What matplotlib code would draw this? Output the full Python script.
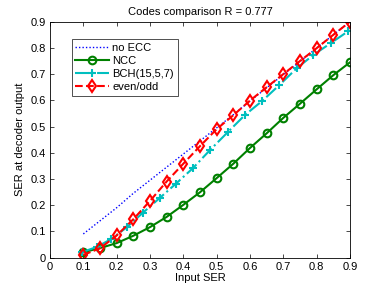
import matplotlib
matplotlib.use('Agg')
import matplotlib.pyplot as plt
import numpy as np

# input SER points
ser_in = [0.1, 0.15, 0.2, 0.25, 0.3, 0.35, 0.4, 0.45, 0.5,
          0.55, 0.6, 0.65, 0.7, 0.75, 0.8, 0.85, 0.9]

no_ecc = [0.09, 0.14, 0.19, 0.245, 0.295, 0.345, 0.395, 0.445, 0.495,
          0.545, 0.597, 0.648, 0.698, 0.748, 0.8, 0.85, 0.9]

ncc = [0.02, 0.036, 0.055, 0.083, 0.116, 0.155, 0.201, 0.249, 0.303,
       0.358, 0.418, 0.474, 0.533, 0.587, 0.642, 0.696, 0.745]

bch_x = [0.095, 0.14, 0.183, 0.23, 0.278, 0.33, 0.378, 0.428, 0.48,
         0.533, 0.585, 0.637, 0.688, 0.74, 0.79, 0.842, 0.895]
bch = [0.02, 0.04, 0.07, 0.115, 0.17, 0.228, 0.282, 0.34, 0.41,
       0.478, 0.544, 0.598, 0.658, 0.722, 0.773, 0.818, 0.864]

even_odd = [0.01, 0.035, 0.084, 0.146, 0.216, 0.29, 0.358, 0.425, 0.49,
            0.543, 0.599, 0.65, 0.70, 0.75, 0.799, 0.85, 0.90]

ticks = [0, 0.1, 0.2, 0.3, 0.4, 0.5, 0.6, 0.7, 0.8, 0.9]

plt.rcParams['font.family'] = ['Liberation Sans', 'DejaVu Sans']
plt.rcParams['font.size'] = 8

fig = plt.figure(figsize=(3.86, 2.91), dpi=100)
ax = fig.add_axes([0.1295, 0.1151, 0.7772, 0.8103])

ax.plot(ser_in, no_ecc, linestyle=(0, (1, 1.5)), color='blue', linewidth=1.0, label='no ECC')
ax.plot(ser_in, ncc, '-o', color='#008000', linewidth=1.5, markersize=5.5,
        markeredgewidth=1.5, markerfacecolor='none', label='NCC')
ax.plot(bch_x, bch, '-.+', color='#00bfbf', linewidth=1.5, markersize=6,
        markeredgewidth=1.5, label='BCH(15,5,7)')
ax.plot(ser_in, even_odd, '--d', color='red', linewidth=1.5, markersize=6,
        markeredgewidth=1.5, markerfacecolor='none', label='even/odd')

ax.set_xlim(0, 0.9)
ax.set_ylim(0, 0.9)
ax.set_xticks(ticks)
ax.set_yticks(ticks)
ax.set_xticklabels([f'{t:g}' for t in ticks])
ax.set_yticklabels([f'{t:g}' for t in ticks])
ax.tick_params(direction='in', top=True, right=True, length=3, width=0.5, pad=3)
for s in ax.spines.values():
    s.set_linewidth(0.6)

ax.set_title('Codes comparison R = 0.777', fontsize=8, pad=5)
ax.set_xlabel('Input SER', labelpad=1)
ax.set_ylabel('SER at decoder output', labelpad=4)

leg = ax.legend(loc='upper left', bbox_to_anchor=(0.072, 0.925), borderaxespad=0,
                fancybox=False, edgecolor='black', handlelength=3.0,
                labelspacing=0.25, handletextpad=0.3, borderpad=0.35)
leg.get_frame().set_linewidth(0.6)

fig.savefig('out.png', dpi=100)
